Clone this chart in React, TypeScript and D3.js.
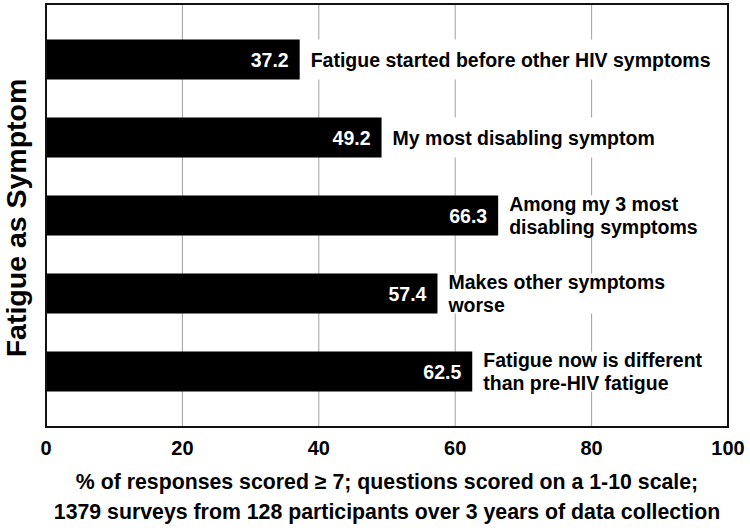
import React, { useRef, useEffect } from "react";
import * as d3 from "d3";

// chart data
const categories: string[][] = [
  ["Fatigue started before other HIV symptoms"],
  ["My most disabling symptom"],
  ["Among my 3 most", "disabling symptoms"],
  ["Makes other symptoms", "worse"],
  ["Fatigue now is different", "than pre-HIV fatigue"],
];
const values = [37.2, 49.2, 66.3, 57.4, 62.5];
const xTicks = [0, 20, 40, 60, 80, 100];
const yTitle = "Fatigue as Symptom";
const xTitle = [
  "% of responses scored \u2265 7; questions scored on a 1-10 scale;",
  "1379 surveys from 128 participants over 3 years of data collection",
];

const W = 750;
const H = 528;
const margin = { top: 4, right: 22, bottom: 101, left: 46 };
const FONT = "'Liberation Sans', Arial, Helvetica, sans-serif";

function App() {
  const svgRef = useRef<SVGSVGElement>(null);

  useEffect(() => {
    const svg = d3.select(svgRef.current);
    svg.selectAll("*").remove();

    const x = d3
      .scaleLinear()
      .domain([0, 100])
      .range([margin.left, W - margin.right]);
    const y = d3
      .scaleBand<number>()
      .domain(values.map((v, i) => i))
      .range([margin.top, H - margin.bottom])
      .paddingInner(0.487)
      .paddingOuter(0.455);

    // gridlines
    svg
      .append("g")
      .selectAll("line")
      .data(xTicks.slice(1, -1))
      .join("line")
      .attr("x1", (d) => x(d))
      .attr("x2", (d) => x(d))
      .attr("y1", margin.top)
      .attr("y2", H - margin.bottom)
      .attr("stroke", "#a0a0a0")
      .attr("stroke-width", 1);

    // bars
    svg
      .append("g")
      .selectAll("rect")
      .data(values)
      .join("rect")
      .attr("x", x(0))
      .attr("y", (d, i) => y(i)!)
      .attr("width", (d) => x(d) - x(0))
      .attr("height", y.bandwidth())
      .attr("fill", "#000");

    // value labels inside bars
    svg
      .append("g")
      .selectAll("text")
      .data(values)
      .join("text")
      .attr("x", (d) => x(d) - 11)
      .attr("y", (d, i) => y(i)! + y.bandwidth() / 2)
      .attr("dy", "0.36em")
      .attr("text-anchor", "end")
      .attr("fill", "#fff")
      .attr("font-family", FONT)
      .attr("font-weight", "bold")
      .attr("font-size", 19.5)
      .text((d) => d.toFixed(1));

    // category labels with white backing
    const lab = svg.append("g");
    categories.forEach((lines, i) => {
      const g = lab.append("g");
      const bg = g.append("rect").attr("fill", "#fff");
      const cy = y(i)! + y.bandwidth() / 2;
      const lh = 23;
      const t = g
        .append("text")
        .attr("font-family", FONT)
        .attr("font-weight", "bold")
        .attr("font-size", 19.5)
        .attr("fill", "#000");
      lines.forEach((s, k) => {
        t.append("tspan")
          .attr("x", x(values[i]) + 11)
          .attr("y", cy + (k - (lines.length - 1) / 2) * lh)
          .attr("dy", "0.36em")
          .text(s);
      });
      const bb = (t.node() as SVGTextElement).getBBox();
      bg.attr("x", bb.x - 4)
        .attr("y", y(i)!)
        .attr("width", bb.width + 8)
        .attr("height", y.bandwidth());
    });

    // frame
    svg
      .append("rect")
      .attr("x", x(0))
      .attr("y", margin.top)
      .attr("width", x(100) - x(0))
      .attr("height", H - margin.bottom - margin.top)
      .attr("fill", "none")
      .attr("stroke", "#111")
      .attr("stroke-width", 2);

    // x tick labels
    svg
      .append("g")
      .selectAll("text")
      .data(xTicks)
      .join("text")
      .attr("x", (d) => x(d))
      .attr("y", 455)
      .attr("text-anchor", "middle")
      .attr("font-family", FONT)
      .attr("font-weight", "bold")
      .attr("font-size", 20)
      .text((d) => d);

    // x title
    svg
      .append("g")
      .selectAll("text")
      .data(xTitle)
      .join("text")
      .attr("x", (x(0) + x(100)) / 2)
      .attr("y", (d, i) => 489 + i * 30)
      .attr("text-anchor", "middle")
      .attr("font-family", FONT)
      .attr("font-weight", "bold")
      .attr("font-size", 21.3)
      .text((d) => d);

    // y title
    svg
      .append("text")
      .attr("transform", `translate(26,218) rotate(-90)`)
      .attr("text-anchor", "middle")
      .attr("font-family", FONT)
      .attr("font-weight", "bold")
      .attr("font-size", 28.5)
      .text(yTitle);
  }, []);

  return (
    <svg
      ref={svgRef}
      width={W}
      height={H}
      style={{ position: "absolute", left: 0, top: 0, background: "#fff" }}
    />
  );
}

export default App;
